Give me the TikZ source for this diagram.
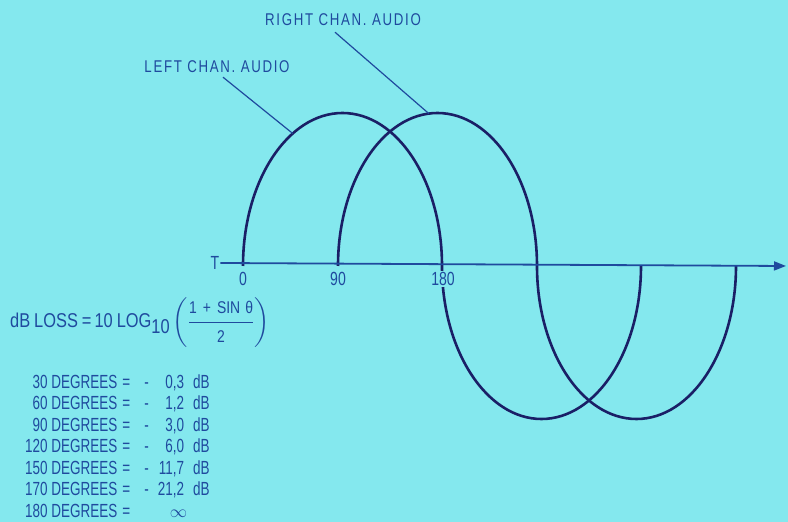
\documentclass[tikz,border=0pt]{standalone}
\usepackage{amsmath}
\usepackage{fontspec}
\setmainfont{Liberation Sans}[FakeStretch=0.74]
\newfontfamily\chanfont{Liberation Sans}[FakeStretch=0.78, LetterSpace=10]
\newfontfamily\tblfont{Liberation Sans}[FakeStretch=0.71]
\newfontfamily\fmfont{Liberation Sans}[FakeStretch=0.82]
\usepackage{xcolor}
\usepackage{tikz}
\usetikzlibrary{arrows.meta,positioning,calc}
\definecolor{bgcyan}{HTML}{84E8EE}
\definecolor{inkblue}{HTML}{1F4A9E}
\definecolor{wavenavy}{HTML}{1A1F66}
\newcommand{\lossfrac}{$\left(\dfrac{\text{\fontsize{17}{20}\selectfont 1\hspace{6pt}+\hspace{6pt}SIN\hspace{5pt}θ}}{\text{\fontsize{17}{20}\selectfont 2}}\right)$}

\begin{document}
\begin{tikzpicture}[
  x=1pt, y=1pt,
  txt/.style={text=inkblue, inner sep=1pt, font=\fontsize{19}{21.5}\selectfont},
  tbl/.style={text=inkblue, inner sep=1pt, font=\tblfont\fontsize{19}{21.5}\selectfont},
  bigtxt/.style={text=inkblue, inner sep=0pt, font=\fmfont\fontsize{20}{24}\selectfont},
  chan/.style={text=inkblue, inner sep=1pt, font=\chanfont\fontsize{17}{20}\selectfont},
  wave/.style={draw=wavenavy, line width=2.6pt},
  leader/.style={draw=inkblue, line width=1.2pt},
  axis/.style={draw=inkblue, line width=1.8pt, -{Triangle[length=12pt, width=9pt]}}
]
  % Background
  \fill[bgcyan] (0,0) rectangle (788,522);
  \useasboundingbox (0,0) rectangle (788,522);

  % Start points of the two waves
  \coordinate (l0) at (243,256);
  \coordinate (r0) at (338,256);
  \coordinate (tip) at (786,256);

  % Waves
  \draw[wave] (l0) arc[start angle=180, end angle=0, x radius=99.5pt, y radius=153pt]
                   arc[start angle=180, end angle=360, x radius=99.5pt, y radius=153pt];
  \draw[wave] (r0) arc[start angle=180, end angle=0, x radius=99.5pt, y radius=153pt]
                   arc[start angle=180, end angle=360, x radius=99.5pt, y radius=153pt];

  % Axis
  \node[txt] (T) at (215,259) {T};
  \draw[axis] (T.east) -- (tip);
  \node[txt] (deg0)   at (243,243) {0};
  \node[txt] (deg90)  at (338,243) {90};
  \node[txt, fill=bgcyan] (deg180) at (443,243) {180};

  % Channel labels
  \node[chan] (leftlbl)  at (217,455) {LEFT CHAN. AUDIO};
  \node[chan] (rightlbl) at (343,502) {RIGHT CHAN. AUDIO};
  \coordinate (lhit) at ($(342.5,256)+(120:99.5pt and 153pt)$);
  \coordinate (rhit) at ($(437.5,256)+(95:99.5pt and 153pt)$);
  \draw[leader] ([xshift=6pt, yshift=-3pt]leftlbl.south) -- (lhit);
  \draw[leader] ([xshift=-8pt, yshift=-5pt]rightlbl.south) -- (rhit);

  % Loss formula
  \node[bigtxt, anchor=base west] (formula) at (10,194)
    {dB\hspace{4pt}LOSS\hspace{4pt}=\hspace{3pt}10\hspace{4pt}LOG\raisebox{-6pt}{10}\hspace{3pt}\lossfrac};

  % Table of losses
  \node[tbl, anchor=north west] (table) at (24,150) {%
    \begin{tabular}{@{}r@{\hspace{5pt}}c@{\hspace{14pt}}c@{\hspace{9pt}}r@{\hspace{9pt}}l@{}}
      30 DEGREES  & = & - & 0,3  & dB \\
      60 DEGREES  & = & - & 1,2  & dB \\
      90 DEGREES  & = & - & 3,0  & dB \\
      120 DEGREES & = & - & 6,0  & dB \\
      150 DEGREES & = & - & 11,7 & dB \\
      170 DEGREES & = & - & 21,2 & dB \\
      180 DEGREES & = & \multicolumn{2}{r}{$\infty$\hspace{16pt}} & \\
    \end{tabular}};
\end{tikzpicture}
\end{document}
